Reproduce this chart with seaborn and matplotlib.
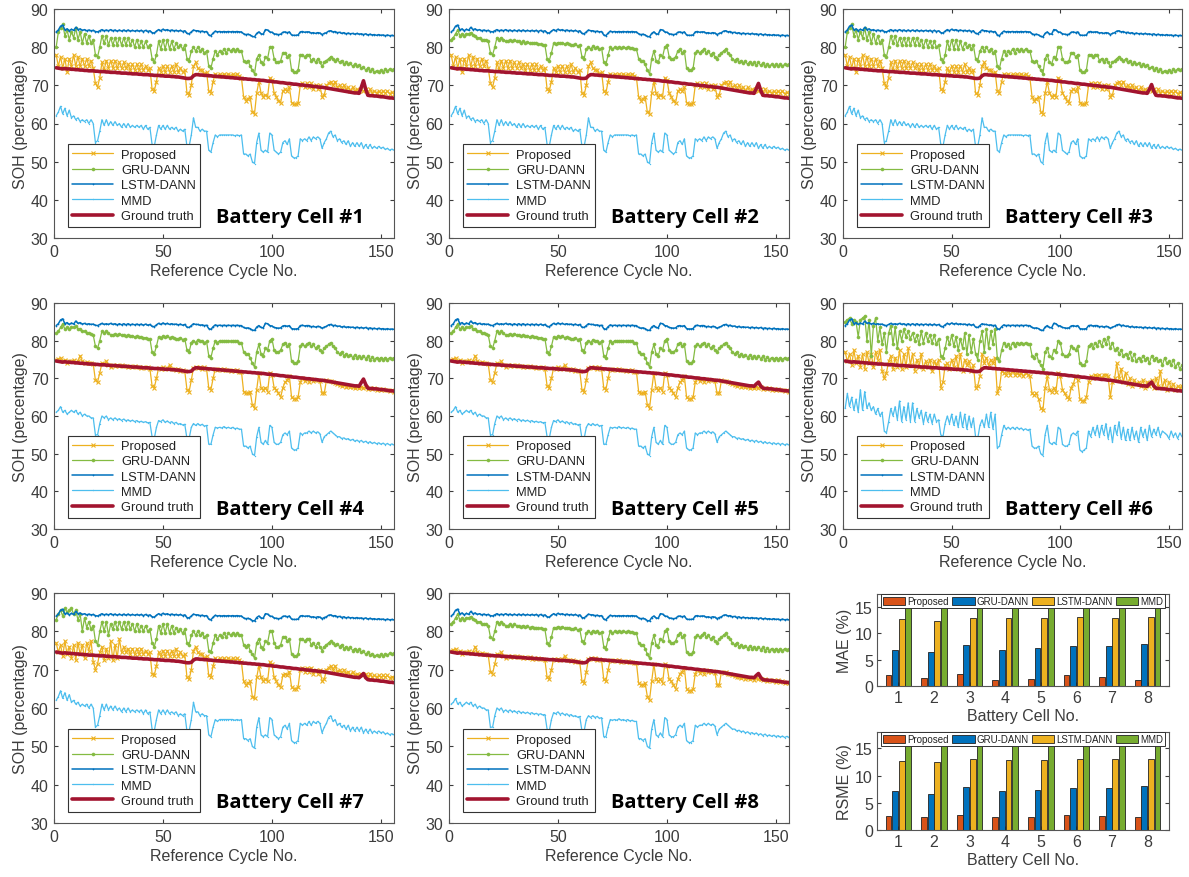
import matplotlib
matplotlib.use("Agg")
import matplotlib.pyplot as plt
import seaborn as sns
import pandas as pd
import numpy as np

# DATA
cycles = list(range(1, 157))

ground_truth = [
    74.6, 74.5, 74.4, 74.3, 74.4, 74.3, 74.3, 74.2, 74.2, 74.1,
    74.1, 74.0, 74.0, 73.9, 73.9, 73.8, 73.8, 73.8, 73.7, 73.7,
    73.6, 73.6, 73.6, 73.5, 73.5, 73.4, 73.4, 73.4, 73.3, 73.3,
    73.2, 73.2, 73.2, 73.1, 73.1, 73.0, 73.0, 73.0, 72.9, 72.9,
    72.8, 72.8, 72.8, 72.7, 72.7, 72.6, 72.6, 72.6, 72.5, 72.5,
    72.4, 72.4, 72.4, 72.3, 72.3, 72.2, 72.2, 72.1, 72.0, 71.9,
    71.8, 71.8, 71.9, 72.5, 72.8, 72.8, 72.7, 72.7, 72.6, 72.6,
    72.5, 72.5, 72.4, 72.4, 72.3, 72.3, 72.2, 72.2, 72.1, 72.1,
    72.0, 72.0, 71.9, 71.9, 71.8, 71.8, 71.7, 71.7, 71.6, 71.6,
    71.5, 71.5, 71.4, 71.4, 71.3, 71.3, 71.2, 71.1, 71.1, 71.0,
    70.9, 70.9, 70.8, 70.7, 70.7, 70.6, 70.5, 70.5, 70.4, 70.3,
    70.3, 70.2, 70.1, 70.1, 70.0, 69.9, 69.9, 69.8, 69.7, 69.7,
    69.6, 69.5, 69.5, 69.4, 69.3, 69.2, 69.1, 69.0, 68.9, 68.8,
    68.7, 68.6, 68.5, 68.4, 68.3, 68.2, 68.1, 68.0, 68.0, 67.9,
    69.5, 71.2, 69.0, 67.4, 67.3, 67.3, 67.2, 67.2, 67.1, 67.0,
    67.0, 66.9, 66.8, 66.7, 66.7, 66.6,
]
# ground-truth bump around cycle 141-143, per cell
gt_bump = [
    [69.5, 71.2, 69.0], [69.2, 70.5, 68.7], [69.0, 70.2, 68.5], [68.9, 69.8, 68.4],
    [68.5, 69.0, 68.0], [68.5, 69.0, 68.0], [68.4, 69.0, 67.9], [68.5, 69.0, 68.0],
]

lstm_dann = [
    84.0, 84.5, 85.5, 85.8, 84.5, 84.8, 84.3, 84.7, 84.4, 85.2,
    84.6, 84.8, 84.4, 84.6, 84.3, 84.5, 84.3, 84.4, 84.1, 84.0,
    84.3, 84.6, 84.3, 84.5, 84.3, 84.6, 84.3, 84.5, 84.2, 84.5,
    84.2, 84.5, 84.2, 84.5, 84.2, 84.4, 84.2, 84.4, 84.2, 84.4,
    84.1, 84.4, 84.1, 84.3, 83.8, 83.7, 84.2, 84.6, 84.3, 84.7,
    84.4, 84.6, 84.3, 84.5, 84.3, 84.4, 84.2, 84.4, 84.1, 84.3,
    83.6, 83.5, 84.0, 84.5, 84.3, 84.3, 84.1, 84.2, 84.0, 84.1,
    83.2, 83.0, 83.7, 84.2, 84.0, 84.1, 84.0, 84.1, 84.0, 84.1,
    84.0, 84.1, 84.0, 84.1, 84.0, 84.0, 83.5, 83.3, 83.4, 83.2,
    82.8, 82.7, 83.6, 84.0, 83.5, 83.4, 84.6, 84.5, 84.0, 83.9,
    83.5, 83.4, 83.3, 83.4, 83.9, 84.0, 83.8, 84.0, 83.2, 83.1,
    83.1, 83.2, 84.0, 84.1, 83.9, 84.0, 84.0, 83.7, 83.8, 83.6,
    83.8, 83.7, 83.3, 83.6, 83.8, 84.2, 84.3, 84.0, 84.1, 83.8,
    83.9, 83.6, 83.8, 83.5, 83.7, 83.5, 83.6, 83.4, 83.6, 83.4,
    83.5, 83.3, 83.5, 83.2, 83.4, 83.2, 83.3, 83.1, 83.3, 83.1,
    83.2, 83.0, 83.2, 83.0, 83.1, 83.0,
]

gru_zigzag = [
    80.0, 84.0, 85.0, 86.0, 83.0, 84.5, 82.0, 84.0, 82.5, 85.0,
    82.0, 84.0, 81.0, 83.5, 81.0, 83.0, 81.0, 82.0, 78.0, 77.5,
    80.0, 83.0, 81.0, 83.0, 80.5, 82.5, 80.5, 82.5, 80.5, 82.5,
    80.5, 82.5, 80.5, 82.5, 80.5, 82.0, 80.0, 82.0, 80.0, 81.5,
    80.0, 81.5, 80.0, 80.5, 77.0, 76.0, 78.0, 81.5, 79.5, 82.0,
    79.5, 82.0, 79.5, 81.5, 79.5, 81.0, 80.0, 80.5, 79.5, 80.5,
    77.0, 76.5, 79.0, 80.0, 79.0, 80.0, 79.0, 79.5, 78.5, 79.0,
    75.0, 74.5, 77.0, 79.0, 78.0, 79.0, 78.5, 79.5, 78.5, 79.5,
    79.0, 79.5, 79.0, 79.5, 79.0, 79.0, 76.5, 76.0, 76.5, 75.0,
    74.0, 73.0, 77.0, 78.0, 76.0, 75.5, 77.5, 77.0, 80.0, 80.0,
    77.0, 76.0, 76.0, 76.5, 78.5, 78.5, 77.5, 78.0, 74.0, 73.5,
    73.5, 74.0, 78.0, 78.0, 77.5, 78.0, 78.0, 76.5, 77.0, 76.0,
    77.0, 76.0, 75.0, 76.0, 76.5, 77.0, 77.5, 77.0, 76.5, 76.8,
    76.0, 76.5, 75.5, 76.0, 75.5, 75.8, 75.0, 75.5, 75.0, 75.3,
    74.5, 74.8, 74.0, 74.5, 73.8, 74.2, 73.5, 73.8, 73.5, 74.0,
    73.5, 74.2, 73.8, 74.3, 74.0, 74.3,
]
gru_smooth = [
    82.0, 82.5, 83.5, 84.5, 83.0, 83.5, 83.0, 83.5, 83.5, 83.8,
    83.2, 83.0, 82.5, 82.5, 82.0, 82.0, 81.8, 81.5, 78.5, 78.0,
    80.0, 82.5, 82.0, 82.5, 82.0, 81.5, 81.5, 81.8, 81.5, 81.8,
    81.5, 81.5, 81.2, 81.5, 81.2, 81.3, 81.0, 81.2, 81.0, 81.0,
    80.8, 80.8, 80.5, 80.5, 77.0, 76.5, 78.5, 81.0, 80.8, 81.2,
    81.0, 81.2, 80.8, 81.0, 80.8, 80.5, 80.5, 80.8, 80.3, 80.5,
    77.5, 77.0, 79.5, 80.0, 79.5, 80.2, 79.8, 80.0, 79.5, 79.8,
    76.0, 75.5, 78.0, 80.0, 79.5, 80.0, 79.8, 80.0, 79.8, 80.0,
    79.8, 80.0, 79.8, 79.8, 79.5, 79.5, 77.0, 76.5, 76.5, 75.5,
    74.0, 73.0, 77.0, 79.0, 76.5, 76.0, 78.0, 77.5, 80.0, 80.5,
    77.5, 77.0, 77.0, 77.5, 79.0, 79.5, 78.5, 79.0, 74.5, 74.0,
    74.0, 74.5, 78.5, 79.0, 78.5, 79.0, 79.5, 78.5, 79.0, 78.0,
    78.5, 77.5, 77.0, 78.0, 78.5, 79.0, 79.5, 78.5, 78.0, 77.0,
    76.5, 77.0, 76.0, 76.5, 75.8, 76.3, 75.5, 76.2, 75.5, 76.0,
    75.3, 76.0, 75.2, 75.8, 75.0, 75.6, 75.0, 75.5, 75.0, 75.5,
    75.0, 75.5, 75.0, 75.5, 75.2, 75.5,
]
gru_noisy = [
    85.0, 85.5, 86.0, 84.5, 85.5, 85.0, 81.0, 85.5, 86.0, 86.5,
    80.0, 85.5, 76.0, 84.0, 86.0, 80.0, 83.5, 79.0, 82.0, 77.0,
    82.0, 84.0, 79.0, 83.5, 78.0, 82.5, 80.0, 83.0, 81.0, 82.5,
    80.5, 82.0, 80.0, 81.5, 79.0, 82.5, 79.5, 82.0, 80.0, 81.5,
    79.5, 81.5, 79.0, 80.5, 76.0, 75.5, 78.0, 81.0, 79.0, 81.5,
    78.5, 81.0, 77.5, 80.5, 78.0, 82.0, 76.5, 81.5, 77.0, 80.5,
    76.5, 75.0, 80.0, 82.5, 77.0, 83.0, 78.0, 82.5, 79.0, 83.0,
    75.5, 74.5, 77.5, 79.5, 78.5, 79.0, 78.0, 79.5, 78.5, 79.5,
    79.0, 79.5, 79.0, 79.5, 79.0, 79.0, 76.0, 75.5, 76.5, 74.5,
    73.5, 72.5, 77.0, 78.0, 76.0, 75.5, 77.5, 77.0, 80.0, 79.5,
    76.5, 76.0, 76.0, 76.5, 78.5, 78.0, 77.5, 78.5, 74.0, 73.5,
    73.5, 74.5, 78.5, 79.0, 78.0, 79.5, 78.5, 80.0, 78.5, 80.5,
    79.0, 81.0, 78.0, 79.5, 77.5, 78.0, 76.5, 77.5, 76.0, 76.5,
    75.5, 77.0, 75.0, 76.5, 74.5, 75.5, 74.5, 76.0, 75.0, 75.5,
    74.0, 76.0, 75.0, 75.5, 74.5, 75.0, 73.5, 75.5, 74.0, 74.5,
    73.5, 75.0, 73.0, 74.0, 72.5, 73.5,
]
# early part of cell #7 GRU-DANN
gru_cell7_start = [
    83.0, 84.5, 85.5, 84.0, 86.0, 85.0, 85.5, 86.0, 84.5, 85.5,
    83.0, 84.5, 80.0, 83.5, 81.0, 82.5, 80.5, 81.5, 77.5, 76.5,
    80.0, 82.5, 80.0, 82.5, 79.0, 82.0, 80.5, 82.5, 80.5, 82.5,
]

proposed_zigzag = [
    78.0, 75.0, 77.5, 74.5, 77.0, 73.5, 77.0, 75.0, 78.0, 75.0,
    77.5, 75.0, 77.0, 75.0, 77.0, 75.0, 76.5, 74.5, 70.5, 69.5,
    72.0, 76.0, 74.0, 76.5, 74.5, 76.5, 74.5, 76.5, 74.5, 76.0,
    74.5, 76.0, 74.5, 75.5, 74.0, 75.5, 74.0, 75.5, 74.0, 75.5,
    74.0, 75.0, 74.0, 74.5, 69.0, 68.5, 71.0, 74.5, 73.5, 75.0,
    73.5, 75.0, 73.5, 75.0, 73.5, 75.5, 73.5, 74.5, 73.5, 74.0,
    68.0, 67.5, 70.0, 75.0, 76.0, 74.5, 74.0, 74.0, 73.0, 73.5,
    68.5, 68.0, 71.0, 73.0, 72.5, 73.0, 72.5, 73.0, 72.5, 73.0,
    72.5, 73.0, 72.5, 73.0, 72.5, 72.0, 67.0, 66.0, 66.5, 67.0,
    63.0, 62.5, 68.0, 71.0, 68.0, 67.0, 67.5, 67.0, 72.0, 71.5,
    68.0, 67.0, 66.0, 65.5, 68.5, 69.0, 68.5, 69.5, 65.5, 65.0,
    65.0, 65.5, 70.0, 70.5, 69.5, 70.5, 69.5, 70.5, 69.0, 70.0,
    69.0, 70.0, 67.0, 67.5, 70.0, 70.5, 71.0, 70.0, 71.0, 69.5,
    70.0, 69.0, 70.0, 69.0, 69.5, 68.5, 69.5, 68.5, 69.0, 68.5,
    69.0, 68.5, 69.0, 68.0, 69.0, 68.0, 68.5, 68.0, 68.5, 68.0,
    68.5, 68.0, 68.5, 67.8, 68.2, 67.8,
]
proposed_smooth = [
    75.0, 75.2, 75.5, 74.5, 74.8, 74.2, 74.6, 74.5, 74.8, 74.3,
    74.6, 76.0, 74.5, 74.2, 74.3, 74.0, 74.2, 73.8, 69.5, 69.0,
    71.5, 74.0, 73.8, 74.5, 73.5, 73.0, 73.5, 73.4, 73.6, 73.3,
    73.5, 73.2, 73.4, 73.1, 73.3, 73.0, 73.2, 72.9, 73.1, 72.8,
    73.0, 72.7, 72.9, 72.6, 68.0, 67.5, 70.0, 72.8, 72.6, 72.9,
    72.5, 72.8, 73.5, 72.4, 72.6, 72.3, 72.5, 72.0, 72.3, 71.9,
    67.0, 66.5, 69.5, 72.8, 73.0, 72.8, 73.0, 72.6, 72.9, 72.5,
    67.5, 67.0, 70.0, 72.6, 72.3, 72.5, 72.2, 72.4, 72.1, 72.3,
    72.0, 72.2, 71.9, 72.1, 71.8, 71.8, 66.5, 66.0, 66.0, 66.5,
    63.0, 62.0, 67.0, 71.5, 67.5, 67.0, 67.5, 66.5, 71.5, 71.0,
    67.5, 67.0, 66.0, 65.0, 67.5, 69.0, 69.5, 70.5, 65.0, 64.5,
    64.5, 65.0, 69.0, 70.0, 69.2, 69.8, 69.0, 69.8, 69.3, 69.5,
    69.6, 69.2, 66.0, 66.0, 69.5, 69.2, 69.3, 69.0, 68.8, 68.5,
    68.3, 68.0, 68.2, 67.8, 68.0, 67.6, 67.8, 67.5, 67.8, 67.4,
    67.8, 67.5, 67.6, 67.2, 67.5, 67.1, 67.4, 67.0, 67.3, 66.9,
    67.2, 66.8, 67.0, 66.6, 66.8, 66.4,
]
proposed_noisy = [
    77.0, 74.5, 76.5, 73.5, 77.5, 74.0, 76.0, 73.0, 76.5, 72.5,
    77.0, 74.0, 76.5, 73.0, 77.0, 75.0, 77.5, 72.0, 70.0, 71.5,
    74.5, 76.0, 72.5, 75.5, 73.0, 77.5, 72.5, 76.5, 73.0, 78.0,
    73.5, 76.5, 72.0, 75.0, 73.0, 76.5, 72.5, 74.5, 73.0, 75.0,
    72.0, 74.5, 73.5, 75.0, 67.5, 69.0, 73.5, 74.0, 72.5, 75.0,
    73.0, 76.0, 72.5, 76.5, 72.0, 75.0, 73.5, 74.5, 72.0, 73.5,
    67.5, 68.0, 70.5, 76.5, 74.0, 75.5, 73.5, 75.0, 74.0, 75.5,
    66.0, 67.5, 72.0, 71.5, 71.0, 72.0, 71.0, 72.0, 71.0, 71.5,
    71.0, 71.5, 70.5, 71.5, 71.0, 70.5, 66.0, 65.5, 66.0, 64.5,
    62.0, 61.5, 67.5, 70.5, 67.0, 66.5, 67.5, 66.5, 71.5, 70.5,
    67.0, 66.0, 65.0, 64.5, 67.5, 68.5, 70.5, 69.5, 64.5, 64.0,
    64.0, 65.0, 69.0, 70.5, 70.0, 71.0, 70.5, 71.0, 70.0, 71.0,
    71.0, 70.5, 65.0, 69.0, 70.0, 74.0, 70.0, 72.5, 69.0, 71.5,
    68.5, 70.0, 68.0, 69.5, 68.5, 69.0, 68.0, 69.5, 67.5, 69.0,
    68.0, 69.5, 67.5, 70.0, 68.0, 72.0, 67.5, 69.5, 67.0, 69.0,
    67.5, 68.5, 67.0, 68.0, 67.5, 68.0,
]

mmd_zigzag = [
    62.0, 63.0, 64.5, 62.5, 64.0, 62.0, 63.5, 61.5, 62.0, 61.0,
    61.5, 60.5, 61.0, 60.5, 61.0, 60.0, 61.0, 60.0, 55.0, 55.5,
    58.0, 61.0, 59.5, 61.0, 59.5, 60.5, 59.5, 60.5, 59.5, 60.0,
    59.0, 60.0, 59.0, 60.0, 59.0, 59.5, 59.0, 59.5, 59.0, 59.5,
    58.5, 59.5, 58.5, 59.0, 54.5, 54.0, 57.0, 59.5, 58.5, 59.5,
    58.5, 59.5, 58.5, 59.0, 58.5, 59.0, 58.0, 58.5, 58.0, 58.5,
    54.0, 54.0, 57.0, 61.5, 59.0, 59.0, 58.0, 58.5, 58.0, 58.0,
    53.0, 52.5, 55.0, 57.0, 56.5, 57.0, 57.0, 57.0, 57.0, 57.0,
    57.0, 57.0, 56.8, 57.0, 56.8, 57.0, 52.0, 52.0, 51.5, 52.0,
    50.0, 49.5, 55.0, 57.5, 53.0, 52.5, 53.0, 52.5, 57.5, 57.0,
    53.0, 52.5, 52.0, 52.5, 55.0, 55.5, 54.5, 56.0, 51.5, 51.0,
    51.0, 51.5, 56.0, 55.5, 56.0, 55.5, 56.5, 55.5, 56.5, 56.0,
    56.5, 56.0, 53.5, 55.0, 56.0, 57.5, 58.0, 56.5, 57.0, 55.5,
    56.0, 55.0, 55.5, 54.5, 55.5, 54.0, 55.0, 54.0, 55.0, 54.0,
    55.0, 53.5, 54.5, 53.5, 54.5, 53.5, 54.0, 53.5, 54.0, 53.5,
    53.8, 53.2, 53.5, 53.0, 53.3, 53.0,
]
mmd_smooth = [
    61.0, 61.5, 62.5, 61.0, 61.5, 60.5, 61.0, 61.5, 61.0, 61.5,
    60.5, 61.0, 60.0, 60.5, 60.0, 60.0, 59.5, 59.5, 55.0, 55.0,
    58.0, 60.0, 59.5, 60.0, 59.0, 59.5, 59.0, 59.5, 59.0, 59.3,
    58.8, 59.2, 58.7, 59.0, 58.6, 58.9, 58.5, 58.8, 58.4, 58.6,
    58.3, 58.5, 58.2, 58.3, 54.5, 54.0, 57.0, 58.8, 58.5, 59.0,
    58.3, 58.7, 58.2, 58.5, 58.0, 58.3, 57.8, 58.0, 57.6, 57.8,
    54.0, 54.0, 57.0, 58.0, 57.5, 58.0, 57.5, 57.8, 57.3, 57.5,
    52.5, 52.5, 55.0, 57.0, 56.8, 57.0, 56.8, 57.2, 56.8, 57.0,
    56.7, 57.0, 56.6, 56.8, 56.5, 56.5, 52.0, 52.0, 51.5, 52.0,
    50.0, 49.5, 54.5, 57.0, 53.0, 52.5, 53.5, 52.5, 57.5, 57.0,
    53.0, 52.5, 52.5, 53.0, 55.0, 55.5, 55.0, 56.0, 51.5, 51.0,
    51.0, 51.5, 55.5, 55.0, 55.5, 55.5, 56.0, 55.5, 56.0, 55.5,
    55.8, 55.3, 53.0, 54.5, 55.0, 55.5, 56.0, 55.5, 55.0, 54.5,
    54.5, 54.0, 54.2, 53.8, 54.0, 53.5, 53.8, 53.3, 53.6, 53.2,
    53.5, 53.0, 53.3, 52.8, 53.2, 52.7, 53.0, 52.6, 52.9, 52.5,
    52.8, 52.4, 52.7, 52.3, 52.6, 52.3,
]
mmd_noisy = [
    62.0, 66.0, 62.5, 65.0, 61.5, 64.5, 61.0, 67.0, 61.5, 66.5,
    62.0, 63.5, 61.5, 62.5, 60.5, 62.0, 60.0, 61.0, 56.0, 55.5,
    58.5, 62.0, 60.0, 62.5, 59.0, 64.0, 58.5, 62.5, 59.0, 63.5,
    58.5, 63.5, 58.5, 62.0, 59.5, 61.5, 58.0, 61.0, 58.5, 60.5,
    58.0, 60.5, 58.5, 59.0, 55.0, 54.5, 58.0, 60.0, 58.0, 60.5,
    57.5, 60.0, 57.0, 61.0, 57.0, 60.5, 56.5, 60.0, 57.0, 59.5,
    54.5, 54.0, 57.5, 59.0, 57.0, 60.5, 57.0, 61.0, 56.5, 60.5,
    51.5, 52.0, 55.0, 57.5, 56.5, 57.0, 56.5, 57.0, 56.5, 57.0,
    56.5, 56.8, 56.3, 56.6, 56.2, 56.5, 52.0, 51.5, 51.5, 52.0,
    50.0, 49.5, 55.0, 57.5, 53.0, 52.5, 53.0, 52.5, 57.0, 56.5,
    52.5, 52.0, 52.0, 52.5, 55.0, 55.5, 55.0, 56.0, 51.0, 50.5,
    51.0, 51.5, 56.0, 54.5, 57.0, 55.0, 57.5, 54.5, 57.5, 55.0,
    58.0, 54.0, 57.0, 53.0, 57.5, 55.0, 58.5, 54.0, 57.0, 53.5,
    56.5, 53.5, 57.0, 54.0, 56.0, 53.0, 57.0, 54.5, 56.5, 53.5,
    57.5, 54.5, 56.5, 55.0, 57.0, 54.5, 56.0, 55.5, 55.0, 54.0,
    56.0, 54.5, 55.5, 54.0, 55.5, 54.5,
]

# which variant each battery cell uses
proposed_cells = [
    proposed_zigzag, proposed_zigzag, proposed_zigzag, proposed_smooth,
    proposed_smooth, proposed_noisy, proposed_noisy[:30] + proposed_zigzag[30:], proposed_smooth,
]
gru_cells = [
    gru_zigzag, gru_smooth, gru_zigzag, gru_smooth,
    gru_smooth, gru_noisy, gru_cell7_start + gru_zigzag[30:], gru_smooth,
]
mmd_cells = [
    mmd_zigzag, mmd_zigzag, mmd_zigzag, mmd_smooth,
    mmd_smooth, mmd_noisy, mmd_zigzag, mmd_smooth,
]

# error metrics (MMD bars run past the top of the axes)
bar_methods = ["Proposed", "GRU-DANN", "LSTM-DANN", "MMD"]
cell_ids = ["1", "2", "3", "4", "5", "6", "7", "8"]
mae_proposed = [2.0, 1.6, 2.3, 1.2, 1.3, 2.1, 1.7, 1.2]
mae_gru = [6.9, 6.4, 7.7, 6.9, 7.2, 7.5, 7.6, 8.0]
mae_lstm = [12.6, 12.3, 12.9, 12.8, 12.8, 13.0, 12.9, 13.0]
mae_mmd = [18.5, 18.2, 18.8, 18.6, 18.7, 18.9, 18.8, 19.0]
rsme_proposed = [2.6, 2.4, 2.8, 2.3, 2.4, 2.8, 2.5, 2.3]
rsme_gru = [7.1, 6.7, 7.9, 7.1, 7.4, 7.8, 7.8, 8.1]
rsme_lstm = [12.7, 12.4, 13.0, 12.8, 12.9, 13.1, 13.0, 13.1]
rsme_mmd = [19.5, 19.2, 19.8, 19.6, 19.7, 19.9, 19.8, 20.0]

# STYLE
sns.set_style("ticks")
plt.rcParams["font.family"] = ["Liberation Sans", "DejaVu Sans"]
TXT = "#3c3c3c"
plt.rcParams.update({
    "text.color": TXT, "axes.labelcolor": TXT,
    "xtick.color": TXT, "ytick.color": TXT,
    "axes.edgecolor": "#555555", "axes.linewidth": 0.8,
    "xtick.direction": "in", "ytick.direction": "in",
    "xtick.major.size": 3, "ytick.major.size": 3,
    "xtick.top": True, "ytick.right": True,
})

c_prop = "#EDB120"
c_gru = "#84BB42"
c_lstm = "#0072BD"
c_mmd = "#4DBEEE"
c_gt = "#A2142F"

W, H = 1189, 878
fig = plt.figure(figsize=(W / 100, H / 100), dpi=100)


def px_axes(left, top, right, bottom):
    return fig.add_axes([left / W, 1 - bottom / H, (right - left) / W, (bottom - top) / H])


col_x = [(54, 394), (449, 789), (843, 1182)]
row_y = [(10, 239), (304, 530), (594, 824)]

for i in range(8):
    r, c = divmod(i, 3)
    ax = px_axes(col_x[c][0], row_y[r][0], col_x[c][1], row_y[r][1])
    gt = ground_truth[:140] + gt_bump[i] + ground_truth[143:]

    sns.lineplot(x=cycles, y=proposed_cells[i], ax=ax, color=c_prop, lw=0.9,
                 marker="x", markersize=3.5, markeredgewidth=0.8, markeredgecolor=c_prop,
                 label="Proposed")
    sns.lineplot(x=cycles, y=gru_cells[i], ax=ax, color=c_gru, lw=0.9,
                 marker="o", markersize=2.2, markeredgewidth=0.4, markeredgecolor=c_gru,
                 label="GRU-DANN")
    sns.lineplot(x=cycles, y=lstm_dann, ax=ax, color=c_lstm, lw=1.1,
                 marker=".", markersize=2.5, markeredgewidth=0, label="LSTM-DANN")
    sns.lineplot(x=cycles, y=mmd_cells[i], ax=ax, color=c_mmd, lw=0.9,
                 marker=".", markersize=2.0, markeredgewidth=0, label="MMD")
    sns.lineplot(x=cycles, y=gt, ax=ax, color=c_gt, lw=2.6, label="Ground truth")

    ax.set_xlim(0, 156)
    ax.set_ylim(30, 90)
    ax.set_xticks([0, 50, 100, 150])
    ax.set_yticks([30, 40, 50, 60, 70, 80, 90])
    ax.tick_params(labelsize=11.5, pad=4)
    ax.set_xlabel("Reference Cycle No.", fontsize=11.5, labelpad=3)
    ax.set_ylabel("SOH (percentage)", fontsize=11.5, labelpad=2)
    for s in ax.spines.values():
        s.set_visible(True)

    leg = ax.legend(loc="lower left", bbox_to_anchor=(0.04, 0.05), fontsize=9.3,
                    frameon=True, fancybox=False, framealpha=1, edgecolor="#333333",
                    handlelength=3.2, handletextpad=0.6, labelspacing=0.25,
                    borderpad=0.35, borderaxespad=0)
    leg.get_frame().set_linewidth(0.8)
    for t in leg.get_texts():
        t.set_color("#222222")

    ax.text(0.695, 0.09, f"Battery Cell #{i + 1}", transform=ax.transAxes,
            ha="center", va="center", fontsize=14.5, fontweight="bold",
            family=["Open Sans", "DejaVu Sans"], color="black")

# BAR CHARTS
bar_colors = ["#D95319", "#0072BD", "#EDB120", "#77AC30"]
metric_sets = [
    ("MAE (%)", [mae_proposed, mae_gru, mae_lstm, mae_mmd], (877, 595, 1169, 687), 17.4),
    ("RSME (%)", [rsme_proposed, rsme_gru, rsme_lstm, rsme_mmd], (877, 733, 1169, 831), 18.0),
]
for ylabel, series, box, ytop in metric_sets:
    ax = px_axes(*box)
    df = pd.DataFrame({
        "cell": cell_ids * 4,
        "method": [m for m in bar_methods for _ in cell_ids],
        "value": [v for s in series for v in s],
    })
    sns.barplot(data=df, x="cell", y="value", hue="method", palette=bar_colors,
                width=0.74, gap=0.1, edgecolor="#222222", linewidth=0.6,
                saturation=1, ax=ax)
    ax.set_ylim(0, ytop)
    ax.set_xlim(-0.6, 7.6)
    ax.set_yticks([0, 5, 10, 15])
    ax.tick_params(labelsize=11.5, pad=3)
    ax.set_xlabel("Battery Cell No.", fontsize=11.5, labelpad=2)
    ax.set_ylabel(ylabel, fontsize=11.5, labelpad=2)
    for s in ax.spines.values():
        s.set_visible(True)
    leg = ax.legend(loc="upper center", bbox_to_anchor=(0.5, 0.995), ncol=4,
                    fontsize=7.0, frameon=True, fancybox=False, framealpha=1,
                    edgecolor="#333333", handlelength=2.3, handleheight=1.0,
                    handletextpad=0.15, columnspacing=0.4, borderpad=0.2,
                    borderaxespad=0)
    leg.get_frame().set_linewidth(0.7)
    for t in leg.get_texts():
        t.set_color("#222222")

fig.savefig("out.png", dpi=100)
